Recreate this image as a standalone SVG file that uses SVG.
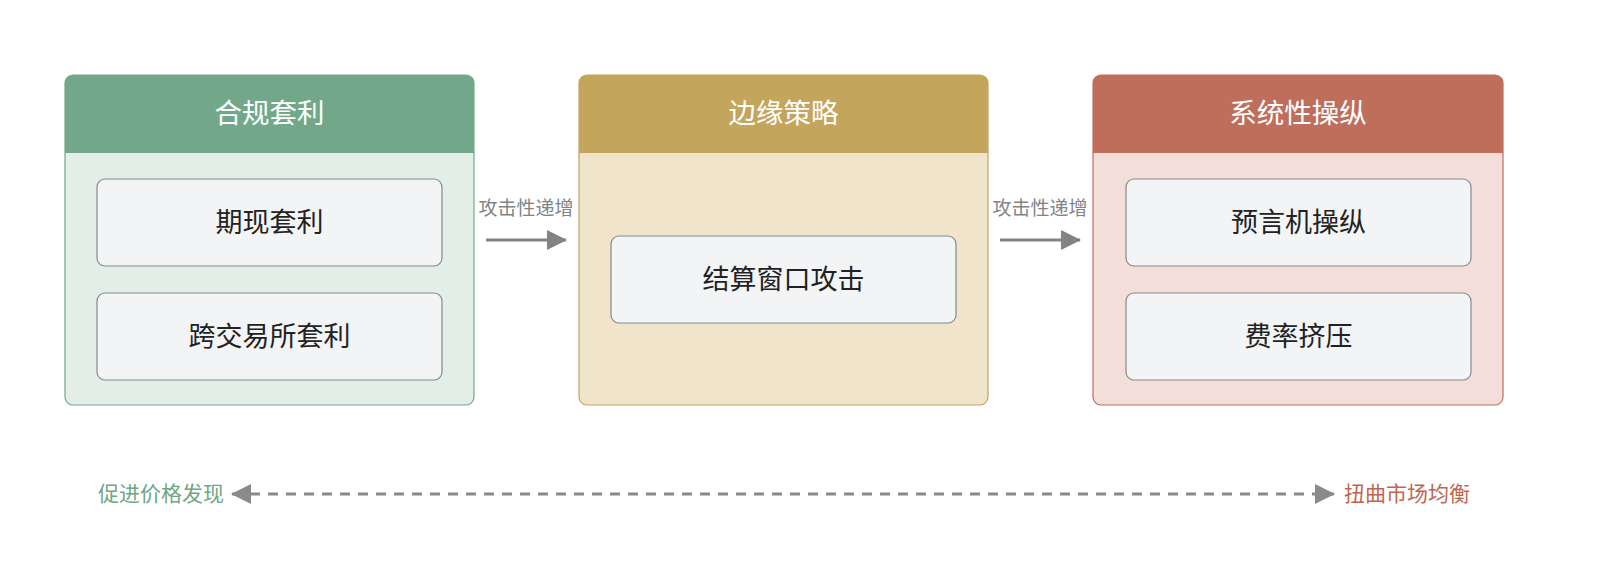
<svg xmlns="http://www.w3.org/2000/svg" width="1600" height="582" viewBox="0 0 1600 582">
<defs>
<style>
.hdr{font-family:"Noto Sans CJK SC","Noto Sans",sans-serif;font-size:27.5px;fill:#ffffff;text-anchor:middle}
.item{font-family:"Noto Sans CJK SC","Noto Sans",sans-serif;font-size:27px;fill:#222222;text-anchor:middle}
.lbl{font-family:"Noto Sans CJK SC","Noto Sans",sans-serif;font-size:19px;fill:#808487;text-anchor:middle}
.end{font-family:"Noto Sans CJK SC","Noto Sans",sans-serif;font-size:21px}
.box{fill:#F3F4F6;stroke:#86898c;stroke-width:1.2}
.arr{stroke:#808487;stroke-width:3;fill:none}
.dash{stroke:#8a8a8a;stroke-width:3;fill:none;stroke-dasharray:10 8}
</style>
<marker id="ah" viewBox="0 0 20 20" refX="19" refY="10" markerWidth="20" markerHeight="20" markerUnits="userSpaceOnUse" orient="auto-start-reverse">
<path d="M0,0 L20,10 L0,20 Z" fill="#808487"/>
</marker>
<marker id="ah2" viewBox="0 0 20 20" refX="19" refY="10" markerWidth="20" markerHeight="20" markerUnits="userSpaceOnUse" orient="auto-start-reverse">
<path d="M0,0 L20,10 L0,20 Z" fill="#8a8a8a"/>
</marker>
</defs>
<rect width="1600" height="582" fill="#ffffff"/>

<g id="panel-compliant">
<rect x="65" y="75" width="409" height="330" rx="8" fill="#E2EEE7" stroke="#72A889" stroke-width="1.2"/>
<path d="M65,153 V83 a8,8 0 0 1 8,-8 H466 a8,8 0 0 1 8,8 V153 Z" fill="#72A889"/>
<text class="hdr" x="269.5" y="123">合规套利</text>
</g>
<g id="node-futures-spot">
<rect class="box" x="97" y="179" width="345" height="87" rx="8"/>
<text class="item" x="269.5" y="232">期现套利</text>
</g>
<g id="node-cross-exchange">
<rect class="box" x="97" y="293" width="345" height="87" rx="8"/>
<text class="item" x="269.5" y="346">跨交易所套利</text>
</g>

<g id="panel-edge">
<rect x="579" y="75" width="409" height="330" rx="8" fill="#F0E4CB" stroke="#C4A55C" stroke-width="1.2"/>
<path d="M579,153 V83 a8,8 0 0 1 8,-8 H980 a8,8 0 0 1 8,8 V153 Z" fill="#C4A55C"/>
<text class="hdr" x="783.5" y="123">边缘策略</text>
</g>
<g id="node-settlement">
<rect class="box" x="611" y="236" width="345" height="87" rx="8"/>
<text class="item" x="783.5" y="289">结算窗口攻击</text>
</g>

<g id="panel-manipulation">
<rect x="1093" y="75" width="410" height="330" rx="8" fill="#F3DED9" stroke="#BF6E5C" stroke-width="1.2"/>
<path d="M1093,153 V83 a8,8 0 0 1 8,-8 H1495 a8,8 0 0 1 8,8 V153 Z" fill="#BF6E5C"/>
<text class="hdr" x="1298" y="123">系统性操纵</text>
</g>
<g id="node-oracle">
<rect class="box" x="1126" y="179" width="345" height="87" rx="8"/>
<text class="item" x="1298.5" y="232">预言机操纵</text>
</g>
<g id="node-funding">
<rect class="box" x="1126" y="293" width="345" height="87" rx="8"/>
<text class="item" x="1298.5" y="346">费率挤压</text>
</g>

<g id="connectors">
<line class="arr" x1="486" y1="240" x2="566" y2="240" marker-end="url(#ah)"/>
<text class="lbl" x="526" y="215">攻击性递增</text>
<line class="arr" x1="1000" y1="240" x2="1080" y2="240" marker-end="url(#ah)"/>
<text class="lbl" x="1040" y="215">攻击性递增</text>
<line class="dash" x1="232" y1="494" x2="1334" y2="494" marker-start="url(#ah2)" marker-end="url(#ah2)"/>
</g>

<g id="spectrum-labels">
<text class="end" x="224" y="501" text-anchor="end" fill="#6FA684">促进价格发现</text>
<text class="end" x="1344" y="501" text-anchor="start" fill="#C0654F">扭曲市场均衡</text>
</g>
</svg>
